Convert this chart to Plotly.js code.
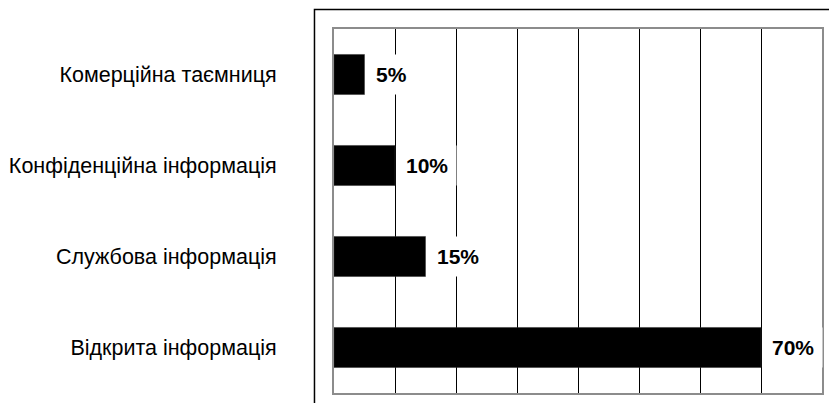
<!DOCTYPE html>
<html>
<head>
<meta charset="utf-8">
<script src="https://cdn.plot.ly/plotly-3.0.1.min.js"></script>
<style>html,body{margin:0;padding:0;background:#fff;}#chart{width:829px;height:403px;}</style>
</head>
<body>
<div id="chart"></div>
<script>
// Categories (top to bottom) and their shares, %
const categories = [
  "Комерційна таємниця",
  "Конфіденційна інформація",
  "Службова інформація",
  "Відкрита інформація"
];
const shares = [5, 10, 15, 70];
const valueLabels = ["5%", "10%", "15%", "70%"];

const trace = {
  type: "bar",
  orientation: "h",
  y: categories,
  x: shares,
  width: 0.44,
  marker: {color: "#000000", line: {color: "#333333", width: 0.5}},
  hoverinfo: "none"
};

// Value labels on white boxes right of each bar end
const annotations = categories.map((c, i) => ({
  x: shares[i], y: c, xref: "x", yref: "y",
  text: "<b>" + valueLabels[i] + "</b>",
  showarrow: false, xanchor: "left", yanchor: "middle",
  bgcolor: "#ffffff", borderpad: 8, xshift: 2,
  font: {family: "Liberation Sans, Arial, sans-serif", size: 21, color: "#000"}
}));

const layout = {
  width: 829, height: 403,
  margin: {l: 334, r: 7, t: 29, b: 10},
  paper_bgcolor: "#ffffff", plot_bgcolor: "#ffffff",
  showlegend: false,
  xaxis: {
    range: [0, 80], dtick: 10, showticklabels: false, ticks: "",
    showgrid: true, gridcolor: "#000000", gridwidth: 1,
    zeroline: false, showline: true, mirror: true,
    linecolor: "#8c8c8c", linewidth: 2, fixedrange: true
  },
  yaxis: {
    autorange: "reversed", ticks: "", showgrid: false, zeroline: false,
    showline: true, mirror: true, linecolor: "#8c8c8c", linewidth: 2,
    ticklabelstandoff: 51,
    tickfont: {family: "Liberation Sans, Arial, sans-serif", size: 21.5, color: "#000"},
    fixedrange: true
  },
  annotations: annotations,
  shapes: [{
    // outer chart frame (left and top edges)
    type: "path", xref: "paper", yref: "paper",
    path: "M -0.04,-0.05 L -0.04,1.0536 L 1.03,1.0536",
    line: {color: "#000000", width: 1.5}
  }]
};

Plotly.newPlot("chart", [trace], layout, {displayModeBar: false, staticPlot: true});
</script>
</body>
</html>
